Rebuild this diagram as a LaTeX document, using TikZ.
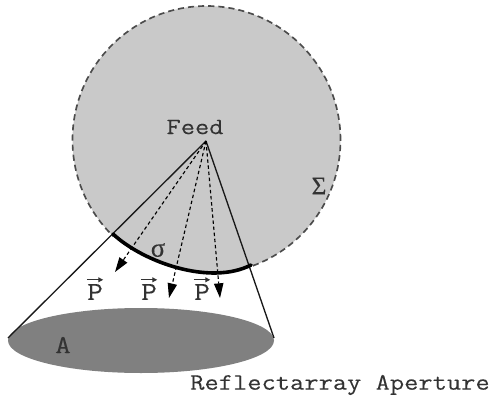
\documentclass[tikz,border=0pt]{standalone}
\usepackage{fontspec}
\usepackage{amsmath}
\setmonofont{Latin Modern Mono}[FakeStretch=1.18,FakeBold=0.12]
\newfontfamily\greekfont{Liberation Serif}[FakeBold=0.2]
\usetikzlibrary{arrows.meta}
\definecolor{discgray}{gray}{0.79}
\definecolor{apgray}{gray}{0.5}
\definecolor{inkgray}{gray}{0.2}
\tikzset{
  lbl/.style={inner sep=0pt,text=inkgray,font=\ttfamily\fontsize{17.6}{20}\selectfont},
  biglbl/.style={lbl,font=\ttfamily\fontsize{19.5}{20}\selectfont},
  greek/.style={inner sep=0pt,text=inkgray,font=\greekfont\fontsize{19}{20}\selectfont},
  beam/.style={line width=0.85pt,dash pattern=on 2.6pt off 2pt,-{Triangle[width=7pt,length=11pt]}},
  edge/.style={line width=1pt,black!90},
  vecbar/.style={line width=0.75pt,inkgray,-{Triangle[width=3.6pt,length=3.6pt]}}
}
\begin{document}
\begin{tikzpicture}[x=0.75pt,y=-0.75pt]
\useasboundingbox (0,0) rectangle (490,400);
\coordinate (c) at (206.5,140);
\coordinate (feedpt) at (206,141);
\coordinate (al) at (8,338);
\coordinate (ar) at (274,338);
\coordinate (p1) at (115,272);
\coordinate (p2) at (169,298);
\coordinate (p3) at (220,298);
\fill[discgray] (c) circle[radius=134*0.75pt];
\draw[line width=1.25pt,dash pattern=on 4.6pt off 3pt,black!70] (c) circle[radius=134*0.75pt];
\fill[white] (113,234) .. controls (143,262) and (210,286) .. (251,265) -- (251,290) -- (113,290) -- cycle;
\fill[apgray] (141,340.5) ellipse[x radius=133*0.75pt,y radius=32.5*0.75pt];
\draw[edge] (feedpt) -- (al);
\draw[edge] (feedpt) -- (ar);
\draw[beam] (feedpt) -- (p1);
\draw[beam] (feedpt) -- (p2);
\draw[beam] (feedpt) -- (p3);
\draw[line width=2.7pt,black,line cap=round] (113,234) .. controls (143,262) and (210,286) .. (251,265);
\node[lbl] (feed) at (195,127) {Feed};
\node[greek,font=\greekfont\fontsize{20}{20}\selectfont] (sig) at (158,250) {σ};
\node[greek] (bigsig) at (319,186) {Σ};
\node[biglbl] (a) at (63,345) {A};
\node[biglbl] (q1) at (95,292) {P};
\node[biglbl] (q2) at (149,292) {P};
\node[biglbl] (q3) at (202,292) {P};
\foreach \n in {q1,q2,q3}{
  \draw[vecbar] ([yshift=3pt]\n.north west) -- ([yshift=3pt]\n.north east);
}
\node[lbl,anchor=east] (title) at (490,385) {Reflectarray Aperture};
\end{tikzpicture}
\end{document}
